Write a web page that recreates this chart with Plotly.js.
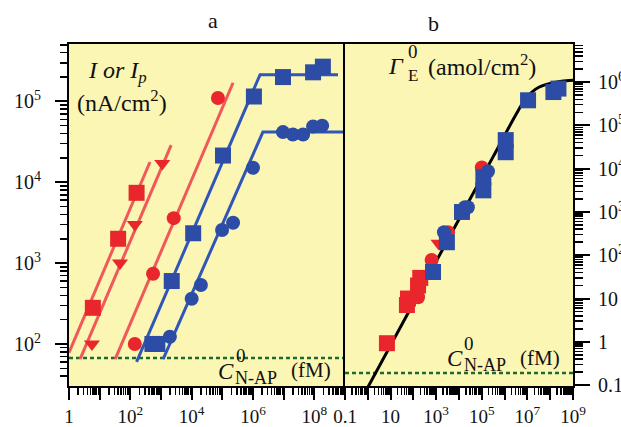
<!DOCTYPE html>
<html><head><meta charset="utf-8">
<script src="https://cdn.plot.ly/plotly-3.0.1.min.js"></script>
<style>html,body{margin:0;padding:0;background:#fff}</style>
</head><body><div id="chart" style="width:621px;height:427px"></div>
<script>
// ---- Panel a data (concentration fM, current nA/cm2) ----
const aRedSqX = [6.0, 40, 160];
const aRedSqY = [280, 2000, 7400];
const aRedTriX = [5.6, 46, 140, 1100];
const aRedTriY = [100, 1000, 3000, 17000];
const aRedCirX = [140, 550, 2600, 72000];
const aRedCirY = [100, 740, 3600, 110000];
const aBlueSqX = [525, 760, 2240, 11200, 105000, 1.07e6, 9.5e6, 9.1e7, 1.9e8];
const aBlueSqY = [100, 100, 600, 2340, 21400, 115000, 200000, 229000, 269000];
const aBlueCirX = [1950, 10000, 20000, 98000, 224000, 1e6, 9.5e6, 2.0e7, 4.3e7, 9.1e7, 1.8e8];
const aBlueCirY = [123, 363, 537, 2570, 3160, 15100, 41700, 38900, 38900, 49000, 50100];
// fit lines
const aFitRed1X = [1, 437];        const aFitRed1Y = [78, 17800];
const aFitRed2X = [2.3, 2140];     const aFitRed2Y = [65, 28800];
const aFitRed3X = [32, 224000];    const aFitRed3Y = [65, 170000];
const aFitBlue1X = [160, 1.7e6, 5.9e8]; const aFitBlue1Y = [60, 214000, 214000];
const aFitBlue2X = [1175, 2.1e6, 1e9];  const aFitBlue2Y = [65, 41700, 41700];
const aLodX = [1, 1e9]; const aLodY = [67, 67];

// ---- Panel b data (concentration fM, surface conc amol/cm2) ----
const bRedSqX = [6.9, 52, 58, 160, 200];
const bRedSqY = [0.93, 7.1, 10, 20, 30];
const bRedCirX = [160, 630, 3300, 100000];
const bRedCirY = [10.7, 78, 340, 10700];
const bRedTriX = [1260];
const bRedTriY = [190];
const bBlueSqX = [724, 2950, 13500, 117000, 117000, 1.12e6, 1.12e6, 1.07e7, 1.38e8, 2.3e8];
const bBlueSqY = [41, 200, 1000, 3160, 6300, 24000, 45700, 380000, 589000, 708000];
const bBlueCirX = [2190, 18200, 24500, 186000];
const bBlueCirY = [339, 1290, 1290, 8700];
const bCurveX = [1, 100, 1e4, 3.16e5, 3.16e6, 7.9e6, 1.58e7, 3.16e7, 1e8, 3.16e8, 1e9];
const bCurveY = [0.089, 7.8, 676, 19000, 178000, 398000, 589000, 759000, 933000, 1.05e6, 1.1e6];
const bLodX = [0.1, 1e9]; const bLodY = [0.19, 0.19];

// tick labels
const aXTickVals = [1,10,1e2,1e3,1e4,1e5,1e6,1e7,1e8,1e9];
const aXTickText = ['1','','10<sup>2</sup>','','10<sup>4</sup>','','10<sup>6</sup>','','10<sup>8</sup>',''];
const aYTickVals = [1e2,1e3,1e4,1e5];
const aYTickText = ['10<sup>2</sup>','10<sup>3</sup>','10<sup>4</sup>','10<sup>5</sup>'];
const bXTickVals = [0.1,1,10,1e2,1e3,1e4,1e5,1e6,1e7,1e8,1e9];
const bXTickText = ['0.1','','10','','10<sup>3</sup>','','10<sup>5</sup>','','10<sup>7</sup>','','10<sup>9</sup>'];
const bYTickVals = [0.1,1,10,1e2,1e3,1e4,1e5,1e6];
const bYTickText = ['0.1','1','10','10<sup>2</sup>','10<sup>3</sup>','10<sup>4</sup>','10<sup>5</sup>','10<sup>6</sup>'];

function minorVals(lo, hi){ const v=[]; for(let e=lo;e<=hi;e++){for(let m=2;m<=9;m++){v.push(m*Math.pow(10,e));}} return v; }

const RED='#E8262B', REDL='#F0585A', BLUE='#2C4CA5', BLUEL='#2F56B8', GREEN='#1E6B30';
const FONT='Liberation Serif';

function mk(x,y,sym,col,size,xa,ya){return {x:x,y:y,mode:'markers',type:'scatter',xaxis:xa,yaxis:ya,marker:{symbol:sym,color:col,size:size,line:{width:0}},hoverinfo:'skip'};}
function ln(x,y,col,w,xa,ya,dash,shape){return {x:x,y:y,mode:'lines',type:'scatter',xaxis:xa,yaxis:ya,line:{color:col,width:w,dash:dash||'solid',shape:shape||'linear'},hoverinfo:'skip'};}

const data = [
  ln(aLodX,aLodY,GREEN,2.5,'x','y','4px,3px'),
  ln(aFitRed1X,aFitRed1Y,REDL,3,'x','y'),
  ln(aFitRed2X,aFitRed2Y,REDL,3,'x','y'),
  ln(aFitRed3X,aFitRed3Y,REDL,3,'x','y'),
  ln(aFitBlue1X,aFitBlue1Y,BLUEL,3,'x','y'),
  ln(aFitBlue2X,aFitBlue2Y,BLUEL,3,'x','y'),
  mk(aRedSqX,aRedSqY,'square',RED,16,'x','y'),
  mk(aRedTriX,aRedTriY,'triangle-down',RED,14,'x','y'),
  mk(aRedCirX,aRedCirY,'circle',RED,14,'x','y'),
  mk(aBlueSqX,aBlueSqY,'square',BLUE,16,'x','y'),
  mk(aBlueCirX,aBlueCirY,'circle',BLUE,14,'x','y'),

  ln(bLodX,bLodY,GREEN,2.5,'x2','y2','4px,3px'),
  ln(bCurveX,bCurveY,'#000',3,'x2','y2','solid','spline'),
  mk(bRedSqX,bRedSqY,'square',RED,16,'x2','y2'),
  mk(bRedCirX,bRedCirY,'circle',RED,14,'x2','y2'),
  mk(bRedTriX,bRedTriY,'triangle-down',RED,14,'x2','y2'),
  mk(bBlueSqX,bBlueSqY,'square',BLUE,16,'x2','y2'),
  mk(bBlueCirX,bBlueCirY,'circle',BLUE,14,'x2','y2')
];

const L=69, R=48, T=44, B=41, W=621, H=427;
const PW=W-L-R, PH=H-T-B;
const split=(345-L)/PW;
function px(xp){return (xp-L)/PW;} function py(yp){return (H-B-yp)/PH;}

const axBase = {type:'log', showgrid:false, zeroline:false, showline:true, linecolor:'#000', linewidth:2,
  ticks:'outside', tickcolor:'#000', tickwidth:2, tickfont:{family:FONT,size:20,color:'#111'}};
const xTickFont = {family:FONT,size:19,color:'#111'};

const layout = {
  width:W, height:H, showlegend:false,
  margin:{l:L,r:R,t:T,b:B,pad:0},
  paper_bgcolor:'#fff', plot_bgcolor:'#FBF6B4',
  font:{family:FONT,color:'#111'},
  xaxis: Object.assign({}, axBase, {domain:[0,split], range:[0,9], anchor:'y', mirror:true,
     tickmode:'array', tickvals:aXTickVals, ticktext:aXTickText, ticklen:12, tickfont:xTickFont, ticklabelstandoff:0,
     minor:{tickmode:'array', tickvals:minorVals(0,8), ticks:'outside', ticklen:7, tickcolor:'#000', tickwidth:1.5}}),
  yaxis: Object.assign({}, axBase, {domain:[0,1], range:[1.48,5.71], anchor:'x', mirror:false,
     tickmode:'array', tickvals:aYTickVals, ticktext:aYTickText, ticklen:12, ticklabelstandoff:10,
     minor:{tickmode:'array', tickvals:minorVals(1,5), ticks:'outside', ticklen:7, tickcolor:'#000', tickwidth:1.5}}),
  xaxis2: Object.assign({}, axBase, {domain:[split,1], range:[-1,9], anchor:'y2', mirror:true,
     tickmode:'array', tickvals:bXTickVals, ticktext:bXTickText, ticklen:12, tickfont:xTickFont, ticklabelstandoff:0,
     minor:{tickmode:'array', tickvals:minorVals(-1,8), ticks:'outside', ticklen:7, tickcolor:'#000', tickwidth:1.5}}),
  yaxis2: Object.assign({}, axBase, {domain:[0,1], range:[-1.02,6.88], anchor:'x2', side:'right', mirror:true,
     tickmode:'array', tickvals:bYTickVals, ticktext:bYTickText, ticklen:15, ticklabelstandoff:4,
     minor:{tickmode:'array', tickvals:minorVals(-1,6), ticks:'outside', ticklen:8, tickcolor:'#000', tickwidth:1.5}}),
  annotations: []
};

function ann(text,xp,yp,size,extra){
  layout.annotations.push(Object.assign({text:text, xref:'paper', yref:'paper', x:px(xp), y:py(yp),
    xanchor:'center', yanchor:'middle', showarrow:false, font:{family:FONT,size:size,color:'#111'}}, extra||{}));
}
ann('a',213,20,22);
ann('b',433,24,22);
ann('<i>I or I<sub>p</sub></i>',117,72,24);
ann('(nA/cm<sup>2</sup>)',122,101,24);
// panel a C0 N-AP label
ann('<i>C</i>',226,371,23);
ann('0',241,355,19);
ann('N-AP',256,378,18);
ann('(fM)',311,370,21);
// panel b C0 N-AP label
ann('<i>C</i>',455,358,23);
ann('0',469,343,19);
ann('N-AP',485,365,18);
ann('(fM)',540,358,21);
// Gamma label
ann('<i>Γ</i>',396,66,24);
ann('0',413,51,19);
ann('E',413,75,17);
ann('(amol/cm<sup>2</sup>)',482,65,24);

Plotly.newPlot('chart', data, layout, {staticPlot:true, displayModeBar:false});
</script></body></html>
